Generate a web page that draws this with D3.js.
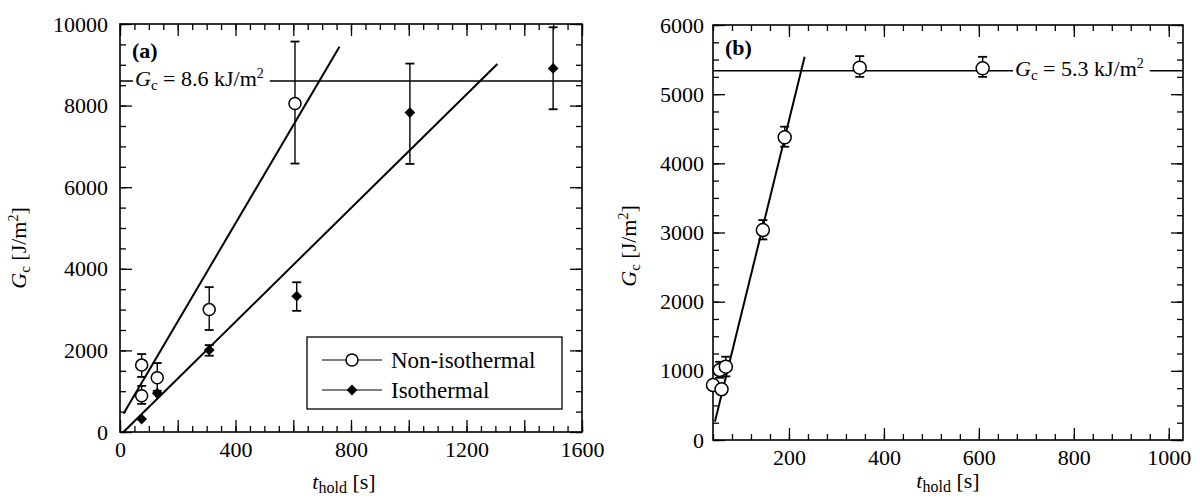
<!DOCTYPE html>
<html>
<head>
<meta charset="utf-8">
<script src="https://cdn.jsdelivr.net/npm/d3@7"></script>
<style>
  body { margin: 0; background: white; }
  svg, svg text { font-family: "Liberation Serif", "Tinos", "DejaVu Serif", "Times New Roman", serif; }
  svg text { font-size: 22px; fill: black; }
</style>
</head>
<body>
<div id="chart"></div>
<script>
// ---- Panel (a) data ----
// Non-isothermal (open circles)
var nonIsoTime = [75, 75, 129, 309, 606];
var nonIsoGc = [1640, 890, 1330, 3000, 8050];
var nonIsoLow = [1350, 690, 1010, 2500, 6580];
var nonIsoHigh = [1910, 1130, 1690, 3550, 9570];

// Isothermal (filled diamonds), no bar where low == high
var isoTime = [75, 129, 309, 612, 1004, 1500];
var isoGc = [318, 950, 2010, 3330, 7830, 8910];
var isoLow = [318, 950, 1870, 2970, 6570, 7910];
var isoHigh = [318, 950, 2130, 3670, 9030, 9920];

// fitted lines, end points [t, Gc]
var fitNonIso = [[12, 450], [760, 9440]];
var fitIso = [[12, 0], [1307, 9020]];
var gcLevelA = 8600;

// ---- Panel (b) data ----
var bTime = [40, 58, 54, 67, 145, 191, 349, 608];
var bGc = [795, 733, 1012, 1060, 3036, 4376, 5383, 5373];
var bLow = [795, 733, 900, 920, 2900, 4240, 5250, 5250];
var bHigh = [795, 733, 1130, 1204, 3180, 4530, 5550, 5540];
var fitB = [[44, 265], [233, 5541]];
var gcLevelB = 5340;

// tick labels
var xLabelsA = [0, 400, 800, 1200, 1600];
var yLabelsA = [0, 2000, 4000, 6000, 8000, 10000];
var xLabelsB = [200, 400, 600, 800, 1000];
var yLabelsB = [0, 1000, 2000, 3000, 4000, 5000, 6000];

var fontSerif = '"Liberation Serif", "Tinos", "DejaVu Serif", "Times New Roman", serif';

var svg = d3.select("#chart").append("svg")
  .attr("width", 1200)
  .attr("height", 498)
  .attr("font-family", fontSerif);

// Scales (pixel ranges picked to sit the frames where the figure has them)
var xA = d3.scaleLinear().domain([0, 1600]).range([120, 582]);
var yA = d3.scaleLinear().domain([0, 10000]).range([432, 24]);
var xB = d3.scaleLinear().domain([40, 1030]).range([713, 1183]);
var yB = d3.scaleLinear().domain([0, 6000]).range([440, 25]);

// Frame with inward ticks on all four sides
function drawAxes(x, y, o) {
  var g = svg.append("g");
  var bottom = y.range()[0], top = y.range()[1];
  var left = x.range()[0], right = x.range()[1];

  g.append("g").attr("transform", `translate(0,${bottom})`)
    .call(d3.axisBottom(x).tickValues(o.xMinor).tickSize(-6).tickSizeOuter(0).tickFormat(""));
  g.append("g").attr("transform", `translate(0,${bottom})`)
    .call(d3.axisBottom(x).tickValues(o.xMajor).tickSize(-12).tickSizeOuter(0).tickPadding(9)
      .tickFormat(d => o.xLabels.includes(d) ? d : ""));
  g.append("g").attr("transform", `translate(0,${top})`)
    .call(d3.axisTop(x).tickValues(o.xMinor).tickSize(-6).tickSizeOuter(0).tickFormat(""));
  g.append("g").attr("transform", `translate(0,${top})`)
    .call(d3.axisTop(x).tickValues(o.xMajor).tickSize(-12).tickSizeOuter(0).tickFormat(""));

  g.append("g").attr("transform", `translate(${left},0)`)
    .call(d3.axisLeft(y).tickValues(o.yMinor).tickSize(-6).tickSizeOuter(0).tickFormat(""));
  g.append("g").attr("transform", `translate(${left},0)`)
    .call(d3.axisLeft(y).tickValues(o.yMajor).tickSize(-12).tickSizeOuter(0).tickPadding(o.yPad)
      .tickFormat(d => o.yLabels.includes(d) ? d : ""));
  g.append("g").attr("transform", `translate(${right},0)`)
    .call(d3.axisRight(y).tickValues(o.yMinor).tickSize(-6).tickSizeOuter(0).tickFormat(""));
  g.append("g").attr("transform", `translate(${right},0)`)
    .call(d3.axisRight(y).tickValues(o.yMajor).tickSize(-12).tickSizeOuter(0).tickFormat(""));

  g.selectAll(".domain").remove();
  g.selectAll("line").attr("stroke", "black").attr("stroke-width", 1.3);
  g.selectAll("g").attr("font-family", fontSerif).attr("font-size", 22);

  g.append("rect")
    .attr("x", left).attr("y", top)
    .attr("width", right - left).attr("height", bottom - top)
    .attr("fill", "none").attr("stroke", "black").attr("stroke-width", 1.6);
}

drawAxes(xA, yA, {
  xMinor: d3.range(0, 1601, 50), xMajor: d3.range(0, 1601, 200), xLabels: xLabelsA,
  yMinor: d3.range(0, 10001, 500), yMajor: d3.range(0, 10001, 2000), yLabels: yLabelsA, yPad: 12
});
drawAxes(xB, yB, {
  xMinor: d3.range(40, 1030, 40), xMajor: d3.range(200, 1001, 200), xLabels: xLabelsB,
  yMinor: d3.range(0, 6001, 250), yMajor: d3.range(0, 6001, 1000), yLabels: yLabelsB, yPad: 9
});

// "G_c = ... kJ/m2" text pieces
function gcText(t, rest) {
  t.append("tspan").attr("font-style", "italic").text("G");
  t.append("tspan").attr("font-size", "15px").attr("dy", 4).text("c");
  t.append("tspan").attr("dy", -4).text(rest);
  t.append("tspan").attr("font-size", "14px").attr("dy", -8).text("2");
  return t;
}

// Horizontal G_c level with a white-backed label on it
function gcLevel(x, y, level, tx, ty, value) {
  svg.append("line")
    .attr("x1", x.range()[0]).attr("x2", x.range()[1])
    .attr("y1", y(level)).attr("y2", y(level))
    .attr("stroke", "black").attr("stroke-width", 1.5);
  var bg = svg.append("rect").attr("fill", "white");
  var t = gcText(svg.append("text").attr("x", tx).attr("y", ty), " = " + value + " kJ/m");
  var b = t.node().getBBox();
  bg.attr("x", b.x - 2).attr("y", b.y + 4).attr("width", b.width + 8).attr("height", b.height - 6);
}

gcLevel(xA, yA, gcLevelA, 135, 86, "8.6");
gcLevel(xB, yB, gcLevelB, 1015, 76, "5.3");

// Fitted lines
var line = (x, y) => d3.line().x(d => x(d[0])).y(d => y(d[1]));
[fitNonIso, fitIso].forEach(f => {
  svg.append("path").datum(f).attr("d", line(xA, yA))
    .attr("fill", "none").attr("stroke", "black").attr("stroke-width", 2);
});
svg.append("path").datum(fitB).attr("d", line(xB, yB))
  .attr("fill", "none").attr("stroke", "black").attr("stroke-width", 2);

// Error bars
function errorBars(x, y, ts, lows, highs) {
  ts.forEach((t, i) => {
    if (lows[i] == highs[i]) return;
    var g = svg.append("g").attr("stroke", "black").attr("stroke-width", 1.4);
    g.append("line").attr("x1", x(t)).attr("x2", x(t)).attr("y1", y(lows[i])).attr("y2", y(highs[i]));
    [lows[i], highs[i]].forEach(v => {
      g.append("line").attr("x1", x(t) - 4.5).attr("x2", x(t) + 4.5).attr("y1", y(v)).attr("y2", y(v)).attr("stroke-width", 1.8);
    });
  });
}

errorBars(xA, yA, nonIsoTime, nonIsoLow, nonIsoHigh);
errorBars(xA, yA, isoTime, isoLow, isoHigh);
errorBars(xB, yB, bTime, bLow, bHigh);

var diamond = d3.symbol().type(d3.symbolSquare).size(58);

// Markers
function circles(x, y, ts, vs, r) {
  svg.append("g").selectAll("circle")
    .data(ts)
    .join("circle")
    .attr("cx", d => x(d))
    .attr("cy", (d, i) => y(vs[i]))
    .attr("r", r)
    .attr("fill", "white").attr("stroke", "black").attr("stroke-width", 1.5);
}
circles(xA, yA, nonIsoTime, nonIsoGc, 6);
svg.append("g").selectAll("path")
  .data(isoTime)
  .join("path")
  .attr("d", diamond)
  .attr("transform", (d, i) => `translate(${xA(d)},${yA(isoGc[i])}) rotate(45)`)
  .attr("fill", "black");
circles(xB, yB, bTime, bGc, 6.5);

// Legend
var legend = svg.append("g");
legend.append("rect")
  .attr("x", 307).attr("y", 337).attr("width", 255).attr("height", 72)
  .attr("fill", "white").attr("stroke", "black").attr("stroke-width", 1.3);
[["Non-isothermal", 360], ["Isothermal", 390]].forEach((e, i) => {
  legend.append("line").attr("x1", 322).attr("x2", 382).attr("y1", e[1]).attr("y2", e[1])
    .attr("stroke", "black").attr("stroke-width", 1.2);
  if (i == 0) {
    legend.append("circle").attr("cx", 352).attr("cy", e[1]).attr("r", 6)
      .attr("fill", "white").attr("stroke", "black").attr("stroke-width", 1.5);
  } else {
    legend.append("path").attr("d", diamond)
      .attr("transform", `translate(352,${e[1]}) rotate(45)`).attr("fill", "black");
  }
  legend.append("text").attr("x", 391).attr("y", e[1] + 8).style("font-size", "23px").text(e[0]);
});

// Panel tags
svg.append("text").attr("x", 132).attr("y", 58).attr("font-weight", "bold").text("(a)");
svg.append("text").attr("x", 725).attr("y", 55).attr("font-weight", "bold").text("(b)");

// Axis titles
function xTitle(cx, cy) {
  var t = svg.append("text").attr("x", cx).attr("y", cy).attr("text-anchor", "middle");
  t.append("tspan").attr("font-style", "italic").text("t");
  t.append("tspan").attr("font-size", "16px").attr("dy", 4).text("hold");
  t.append("tspan").attr("dy", -4).text(" [s]");
}
xTitle(344, 489);
xTitle(948, 488);

function yTitle(cx, cy) {
  var t = svg.append("text")
    .attr("transform", `translate(${cx},${cy}) rotate(-90)`)
    .attr("text-anchor", "middle");
  gcText(t, " [J/m");
  t.append("tspan").attr("dy", 8).text("]");
}
yTitle(26, 248);
yTitle(636, 246);
</script>
</body>
</html>
